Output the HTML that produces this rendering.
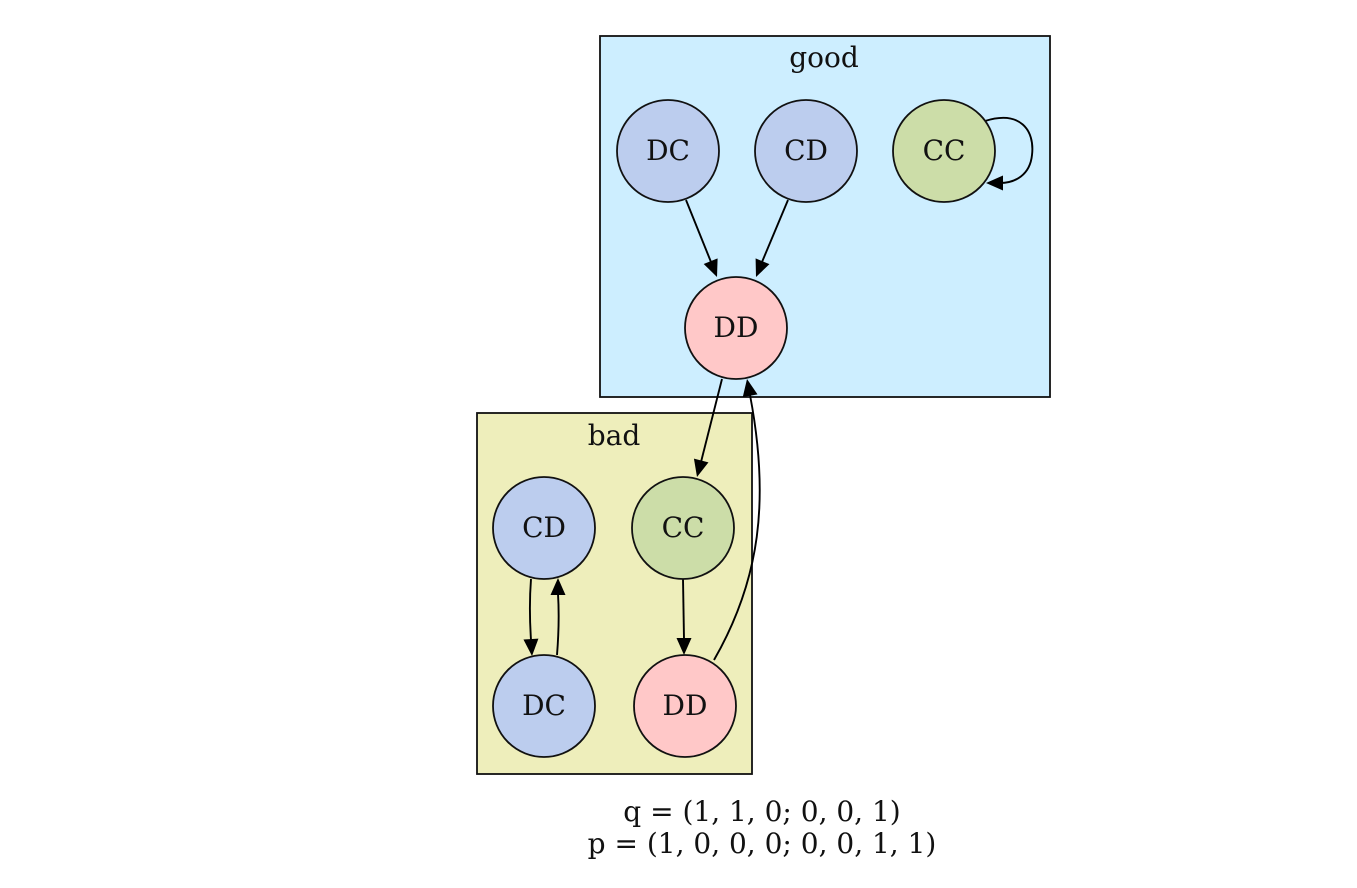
<!DOCTYPE html>
<html><head><meta charset="utf-8"><style>
html,body{margin:0;padding:0;background:#fff;width:1357px;height:888px;overflow:hidden}
text{font-family:"DejaVu Serif","Liberation Serif",serif;font-size:28px;fill:#111}
</style></head><body>
<svg width="1357" height="888" xmlns="http://www.w3.org/2000/svg" id="g">
<rect x="600" y="36" width="450" height="361" fill="#cdeeff" stroke="#111" stroke-width="1.8"/>
<text x="824" y="67" text-anchor="middle">good</text>
<rect x="477" y="413" width="275" height="361" fill="#eeeebb" stroke="#111" stroke-width="1.8"/>
<text x="614" y="445" text-anchor="middle">bad</text>
<g id="edges"></g>
<g id="nodes"></g>
<text x="762" y="821" text-anchor="middle">q = (1, 1, 0; 0, 0, 1)</text>
<text x="762" y="853" text-anchor="middle">p = (1, 0, 0, 0; 0, 0, 1, 1)</text>
</svg>
<script>
const nodeLabels=["DC","CD","CC","DD","CD","CC","DC","DD"];
const nodeX=[668,806,944,736,544,683,544,685];
const nodeY=[151,151,151,328,528,528,706,706];
const nodeFill=["#bccdee","#bccdee","#ccdda8","#ffc8c8","#bccdee","#ccdda8","#bccdee","#ffc8c8"];
const NS="http://www.w3.org/2000/svg";
const E=document.getElementById('edges'),N=document.getElementById('nodes');
function arrow(tx,ty,fx,fy,name){
  const dx=tx-fx,dy=ty-fy,l=Math.hypot(dx,dy),ux=dx/l,uy=dy/l,L=17,W=7.5;
  const bx=tx-ux*L,by=ty-uy*L;
  const p=document.createElementNS(NS,'polygon');
  p.setAttribute('points',`${tx},${ty} ${bx-uy*W},${by+ux*W} ${bx+uy*W},${by-ux*W}`);
  p.setAttribute('fill','#000');
  
  
  E.appendChild(p);
}
function edge(d,tx,ty,fx,fy,name){
  const pa=document.createElementNS(NS,'path');
  pa.setAttribute('d',d);pa.setAttribute('fill','none');pa.setAttribute('stroke','#000');pa.setAttribute('stroke-width','1.9');
  
  
  E.appendChild(pa);arrow(tx,ty,fx,fy,name);
}
edge('M686,200 L711,262',717,277,686,200,'edge-dc-dd');
edge('M788,200 L762,262',756,277,788,200,'edge-cd-dd');
edge('M985,121 C1020,110 1035,130 1032,155 C1030,175 1015,183 1000,183',986,183,1000,183,'edge-cc-self');
edge('M722,379 L701,462',697,477,722,379,'edge-dd-cc');
edge('M714,660 C760,580 770,500 750,395',747,379,750,395,'edge-bdd-gdd');
edge('M531,579 C529,605 530,625 531,640',532,656,531,640,'edge-cd-dc');
edge('M557,655 C559,630 559,610 558,594',558,578,558,594,'edge-dc-cd');
edge('M683,579 L684,639',684,655,684,639,'edge-cc-dd');
for(let i=0;i<nodeLabels.length;i++){
  const c=document.createElementNS(NS,'circle');
  c.setAttribute('cx',nodeX[i]);c.setAttribute('cy',nodeY[i]);c.setAttribute('r',51);
  c.setAttribute('fill',nodeFill[i]);c.setAttribute('stroke','#111');c.setAttribute('stroke-width','1.8');
  
  
  N.appendChild(c);
  const t=document.createElementNS(NS,'text');
  t.setAttribute('x',nodeX[i]);t.setAttribute('y',nodeY[i]+9);t.setAttribute('text-anchor','middle');
  t.textContent=nodeLabels[i];
  
  
  N.appendChild(t);
}
</script>
</body></html>
